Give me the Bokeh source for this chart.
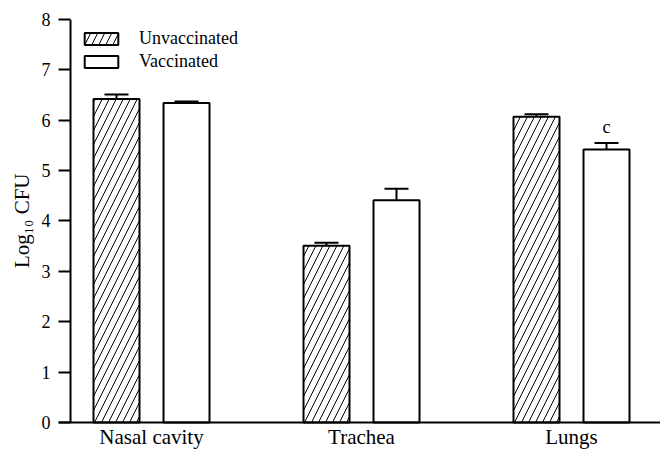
from bokeh.plotting import figure
from bokeh.models import (Range1d, FixedTicker, Span, Whisker, TeeHead,
                          ColumnDataSource, Legend, LegendItem)
from bokeh.embed import file_html
from bokeh.resources import INLINE

# ---- data ----
sites = ["Nasal cavity", "Trachea", "Lungs"]
unvacc = [6.42, 3.51, 6.07]
unvacc_err = [0.09, 0.06, 0.05]
vacc = [6.34, 4.41, 5.42]
vacc_err = [0.03, 0.23, 0.13]
vacc_marks = ["", "", "c"]
y_ticks = [0, 1, 2, 3, 4, 5, 6, 7, 8]

FONT = "Liberation Serif"
pos = list(range(len(sites)))
OFF = 35 / 210
BW = 46 / 210
AXIS_X = (70 - 151) / 210

p = figure(width=660, height=453, output_backend="svg", toolbar_location=None,
           x_range=Range1d(-0.4429, 2.4238), y_range=Range1d(-0.616, 8),
           min_border_left=58, min_border_right=0, min_border_top=19,
           min_border_bottom=0)
p.outline_line_color = None
p.grid.visible = False
p.xaxis.visible = False

x_u = [x - OFF for x in pos]
x_v = [x + OFF for x in pos]

src_u = ColumnDataSource(dict(x=x_u, top=unvacc,
                              up=[a + b for a, b in zip(unvacc, unvacc_err)]))
src_v = ColumnDataSource(dict(x=x_v, top=vacc,
                              up=[a + b for a, b in zip(vacc, vacc_err)]))

r_u = p.vbar(x="x", top="top", bottom=0, width=BW, source=src_u,
             fill_color="white", line_color="black", line_width=2,
             hatch_pattern="/", hatch_scale=14, hatch_weight=1, hatch_color="black")
r_v = p.vbar(x="x", top="top", bottom=0, width=BW, source=src_v,
             fill_color="white", line_color="black", line_width=2)

for src in (src_u, src_v):
    w = Whisker(base="x", lower="top", upper="up", source=src,
                line_color="black", line_width=2,
                upper_head=TeeHead(size=24, line_width=2, line_color="black"),
                lower_head=None)
    p.add_layout(w)

mk = [(x, t, m) for x, t, m in zip(x_v, src_v.data["up"], vacc_marks) if m]
p.text(x=[m[0] for m in mk], y=[m[1] + 0.32 for m in mk], text=[m[2] for m in mk],
       text_align="center", text_baseline="alphabetic",
       text_font={"value": FONT}, text_font_size="18px", text_color="black")

# category labels under the baseline
p.text(x=pos, y=[-0.298] * len(pos), text=sites, text_align="center",
       text_baseline="alphabetic", text_font={"value": FONT},
       text_font_size="21px", text_color="black")

# axis lines
p.add_layout(Span(location=y_ticks[0], dimension="width",
                  line_color="black", line_width=2))
p.segment(x0=[AXIS_X], y0=[y_ticks[0]], x1=[AXIS_X], y1=[y_ticks[-1]],
          line_color="black", line_width=2)

ya = p.yaxis[0]
ya.ticker = FixedTicker(ticks=y_ticks)
ya.axis_line_color = None
ya.major_tick_in = 12
ya.major_tick_out = 0
ya.major_tick_line_width = 2
ya.minor_tick_line_color = None
ya.major_label_standoff = 8
ya.major_label_text_font = FONT
ya.major_label_text_font_size = "18px"
ya.major_label_text_color = "black"
ya.axis_label = "\u00a0" * 6 + "Log\u2081\u2080 CFU"
ya.axis_label_text_font = FONT
ya.axis_label_text_font_size = "21px"
ya.axis_label_text_font_style = "normal"
ya.axis_label_text_color = "black"
ya.axis_label_standoff = 5

legend = Legend(items=[LegendItem(label="Unvaccinated", renderers=[r_u]),
                       LegendItem(label="Vaccinated", renderers=[r_v])],
                location=(22, 381), glyph_width=42, glyph_height=15,
                label_standoff=17, padding=0, margin=0, spacing=2,
                border_line_color=None, background_fill_alpha=0,
                label_text_font=FONT, label_text_font_size="18px",
                label_text_color="black")
p.add_layout(legend)

open("out.html", "w").write(file_html(p, INLINE))
